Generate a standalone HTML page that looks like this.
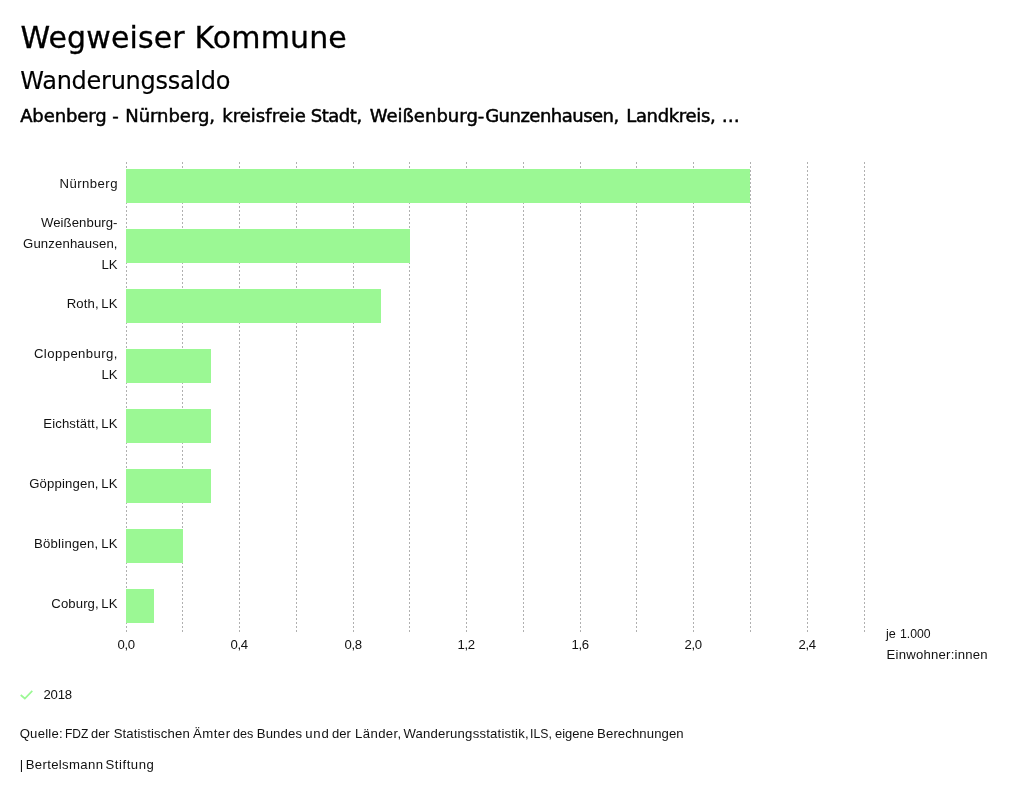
<!DOCTYPE html>
<html lang="de">
<head>
<meta charset="utf-8">
<title>Wegweiser Kommune - Wanderungssaldo</title>
<style>
html,body{margin:0;padding:0;background:#fff;}
body{width:1024px;height:797px;position:relative;overflow:hidden;color:#000;}
#page{position:absolute;left:0;top:0;width:1024px;height:797px;will-change:transform;background:#fff;}
.t{position:absolute;white-space:nowrap;margin:0;line-height:1;}
.dj{font-family:"DejaVu Sans","Liberation Sans",sans-serif;font-weight:normal;}
.ss{font-family:"Liberation Sans","DejaVu Sans",sans-serif;font-size:13.15px;color:#111;line-height:21px;}
#h1{left:20.5px;top:23px;font-size:30px;letter-spacing:0.13px;-webkit-text-stroke:0.3px #000;}
#h2{left:20.3px;top:69px;font-size:24px;letter-spacing:-0.27px;-webkit-text-stroke:0.15px #000;}
#h3{font-size:18px;line-height:1;height:18px;-webkit-text-stroke:0.5px #000;}
.line{position:absolute;left:0;width:1024px;margin:0;white-space:nowrap;}
.line .w{position:absolute;top:0;white-space:nowrap;transform-origin:0 0;}
.bar{position:absolute;left:126px;height:34px;background:#9bf894;}
.lab{position:absolute;right:906.5px;text-align:right;white-space:nowrap;}
.tick{position:absolute;width:60px;text-align:center;white-space:nowrap;letter-spacing:-0.35px;}
svg{position:absolute;left:0;top:0;}
</style>
</head>
<body>
<div id="page">
<h1 id="h1" class="t dj">Wegweiser Kommune</h1>
<h2 id="h2" class="t dj">Wanderungssaldo</h2>
<h3 class="line dj" style="top:107px" id="h3"><span class="w" style="left:20.13px;letter-spacing:-0.0948px;">Abenberg</span> <span class="w" style="left:112.32px;">-</span> <span class="w" style="left:125.24px;letter-spacing:-0.0366px;">Nürnberg,</span> <span class="w" style="left:222.26px;letter-spacing:0.0284px;">kreisfreie</span> <span class="w" style="left:310.74px;letter-spacing:-0.4668px;">Stadt,</span> <span class="w" style="left:369.63px;letter-spacing:0.0222px;">Weißenburg-</span> <span class="w" style="left:485.16px;letter-spacing:-0.5044px;">Gunzenhausen,</span> <span class="w" style="left:626.24px;letter-spacing:-0.3394px;">Landkreis,</span> <span class="w" style="left:721.79px;">…</span></h3>

<svg width="1024" height="797" viewBox="0 0 1024 797">
<g stroke="#b0b0b0" stroke-width="1" stroke-dasharray="2,2" fill="none" shape-rendering="crispEdges">
<path d="M126.5 162V632"/>
<path d="M182.5 162V632"/>
<path d="M239.5 162V632"/>
<path d="M296.5 162V632"/>
<path d="M353.5 162V632"/>
<path d="M409.5 162V632"/>
<path d="M466.5 162V632"/>
<path d="M523.5 162V632"/>
<path d="M580.5 162V632"/>
<path d="M636.5 162V632"/>
<path d="M693.5 162V632"/>
<path d="M750.5 162V632"/>
<path d="M807.5 162V632"/>
<path d="M864.5 162V632"/>
</g>
<path d="M20.7 695L24.85 698.5L32.3 690.9" stroke="#9bf894" stroke-width="1.7" fill="none"/>
</svg>
<div class="bar" style="top:169px;width:624px"></div>
<div class="bar" style="top:229px;width:284px"></div>
<div class="bar" style="top:289px;width:255px"></div>
<div class="bar" style="top:349px;width:85px"></div>
<div class="bar" style="top:409px;width:85px"></div>
<div class="bar" style="top:469px;width:85px"></div>
<div class="bar" style="top:529px;width:57px"></div>
<div class="bar" style="top:589px;width:28px"></div>
<div class="lab ss" style="top:173px;letter-spacing:0.45px;margin-right:-0.45px;">Nürnberg</div>
<div class="lab ss" style="top:212px;letter-spacing:0.08px;margin-right:-0.08px;">Weißenburg-</div>
<div class="lab ss" style="top:233px;letter-spacing:0.14px;margin-right:-0.14px;">Gunzenhausen,</div>
<div class="lab ss" style="top:254px;">LK</div>
<div class="lab ss" style="top:293px;letter-spacing:0.12px;margin-right:-0.12px;word-spacing:-1.2px;">Roth, LK</div>
<div class="lab ss" style="top:343px;letter-spacing:0.42px;margin-right:-0.42px;">Cloppenburg,</div>
<div class="lab ss" style="top:364px;">LK</div>
<div class="lab ss" style="top:413px;letter-spacing:0.14px;margin-right:-0.14px;word-spacing:-1.2px;">Eichstätt, LK</div>
<div class="lab ss" style="top:473px;letter-spacing:0.15px;margin-right:-0.15px;word-spacing:-1.2px;">Göppingen, LK</div>
<div class="lab ss" style="top:533px;letter-spacing:0.24px;margin-right:-0.24px;word-spacing:-1.2px;">Böblingen, LK</div>
<div class="lab ss" style="top:593px;letter-spacing:0.1px;margin-right:-0.1px;word-spacing:-1.2px;">Coburg, LK</div>
<div class="tick ss" style="left:96.17px;top:634px">0,0</div>
<div class="tick ss" style="left:209.17px;top:634px">0,4</div>
<div class="tick ss" style="left:323.17px;top:634px">0,8</div>
<div class="tick ss" style="left:436.17px;top:634px">1,2</div>
<div class="tick ss" style="left:550.17px;top:634px">1,6</div>
<div class="tick ss" style="left:663.17px;top:634px">2,0</div>
<div class="tick ss" style="left:777.17px;top:634px">2,4</div>
<div class="line ss" style="top:623px"><span class="w" style="left:886.41px;transform:scaleX(0.9619);">je</span> <span class="w" style="left:899.96px;transform:scaleX(0.9307);">1.000</span></div>
<div class="t ss" style="left:886.6px;top:644px;letter-spacing:0.22px">Einwohner:innen</div>
<div class="t ss" style="left:43.5px;top:683.5px;letter-spacing:-0.2px">2018</div>
<div class="line ss" style="top:723px"><span class="w" style="left:19.65px;letter-spacing:0.2414px;">Quelle:</span> <span class="w" style="left:64.5px;transform:scaleX(0.9153);">FDZ</span> <span class="w" style="left:91.25px;transform:scaleX(0.9815);">der</span> <span class="w" style="left:113.64px;letter-spacing:0.1305px;">Statistischen</span> <span class="w" style="left:192.9px;letter-spacing:0.5203px;">Ämter</span> <span class="w" style="left:233.3px;transform:scaleX(0.9616);">des</span> <span class="w" style="left:256.76px;letter-spacing:0.1299px;">Bundes</span> <span class="w" style="left:305.14px;letter-spacing:0.9346px;">und</span> <span class="w" style="left:331.64px;transform:scaleX(0.9911);">der</span> <span class="w" style="left:355.0px;letter-spacing:0.4012px;">Länder,</span> <span class="w" style="left:403.38px;letter-spacing:0.2004px;">Wanderungsstatistik,</span> <span class="w" style="left:530.38px;transform:scaleX(0.932);">ILS,</span> <span class="w" style="left:555.01px;transform:scaleX(0.9883);">eigene</span> <span class="w" style="left:597.12px;letter-spacing:0.0966px;">Berechnungen</span></div>
<div class="line ss" style="top:753.5px"><span class="w" style="left:19.66px;">|</span> <span class="w" style="left:25.66px;letter-spacing:0.3536px;">Bertelsmann</span> <span class="w" style="left:105.58px;letter-spacing:0.5298px;">Stiftung</span></div>
</div>
</body>
</html>
